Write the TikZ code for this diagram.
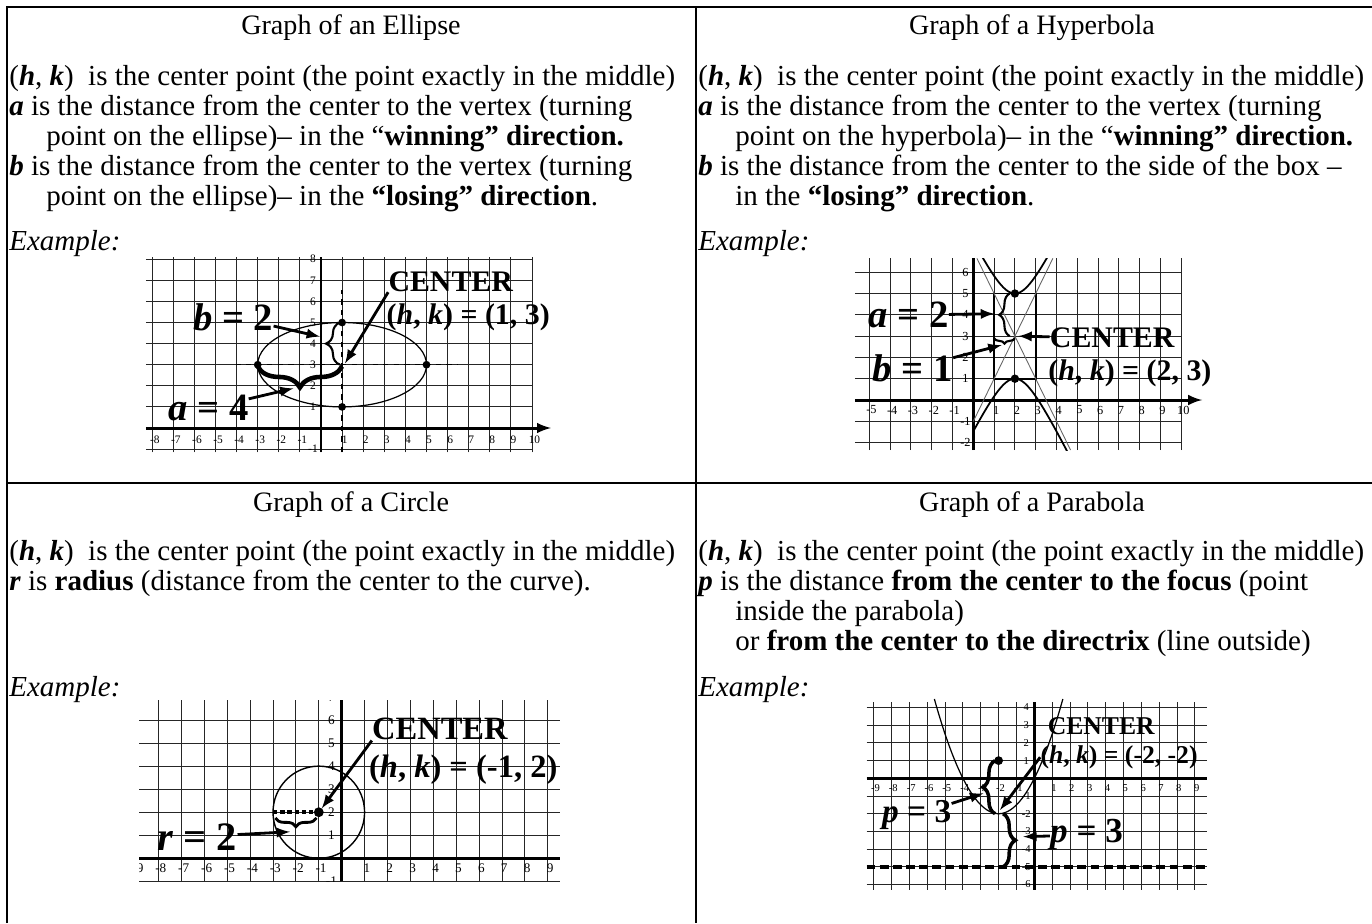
\documentclass[tikz,border=0pt]{standalone}
\usepackage{fontspec}
\setmainfont{Liberation Serif}
\usetikzlibrary{arrows,decorations.pathreplacing,positioning}

\tikzset{
  rule/.style={line width=1.5pt},
  gridln/.style={black!85, line width=0.5pt},
  axisln/.style={line width=1.7pt},
  body/.style={anchor=base west, inner sep=0pt, font=\fontsize{16.5}{18}\selectfont},
  head/.style={anchor=base, inner sep=0pt, font=\fontsize{16}{18}\selectfont},
  tk/.style={inner sep=0pt, font=\fontsize{#1}{#1}\selectfont},
  big/.style={inner sep=0pt, font=\bfseries\fontsize{#1}{#1}\selectfont},
  ptr/.style={-latex, line width=1.6pt},
  brc/.style={decorate, decoration={brace, amplitude=#1}, line width=1.2pt},
}

\begin{document}
\begin{tikzpicture}[x=0.02cm, y=-0.02cm]
\useasboundingbox (0,0) rectangle (1372,923);

% table rules
\draw[rule] (7,923) -- (7,7) -- (1372,7);
\draw[rule] (696,7) -- (696,923);
\draw[rule] (7,483) -- (1372,483);

% ---- ellipse text
\node[head] (t1) at (351,34) {Graph of an Ellipse};
\node[body] (e1) at (9,85) {(\textbf{\textit{h}}, \textbf{\textit{k}})\ \ is the center point (the point exactly in the middle)};
\node[body] (e2) at (9,115) {\textbf{\textit{a}} is the distance from the center to the vertex (turning};
\node[body] (e3) at (46,145) {point on the ellipse)– in the “\textbf{winning” direction.}};
\node[body] (e4) at (9,175) {\textbf{\textit{b}} is the distance from the center to the vertex (turning};
\node[body] (e5) at (46,205) {point on the ellipse)– in the \textbf{“losing” direction}.};
\node[body] (e6) at (9,250) {\textit{Example:}};

% ---- hyperbola text
\node[head] (t2) at (1032,34) {Graph of a Hyperbola};
\node[body] (h1) at (698,85) {(\textbf{\textit{h}}, \textbf{\textit{k}})\ \ is the center point (the point exactly in the middle)};
\node[body] (h2) at (698,115) {\textbf{\textit{a}} is the distance from the center to the vertex (turning};
\node[body] (h3) at (735,145) {point on the hyperbola)– in the “\textbf{winning” direction.}};
\node[body] (h4) at (698,175) {\textbf{\textit{b}} is the distance from the center to the side of the box –};
\node[body] (h5) at (735,205) {in the \textbf{“losing” direction}.};
\node[body] (h6) at (698,250) {\textit{Example:}};

% ---- circle text
\node[head] (t3) at (351,511) {Graph of a Circle};
\node[body] (c1) at (9,560) {(\textbf{\textit{h}}, \textbf{\textit{k}})\ \ is the center point (the point exactly in the middle)};
\node[body] (c2) at (9,590) {\textbf{\textit{r}} is \textbf{radius} (distance from the center to the curve).};
\node[body] (c3) at (9,696) {\textit{Example:}};

% ---- parabola text
\node[head] (t4) at (1032,511) {Graph of a Parabola};
\node[body] (p1) at (698,560) {(\textbf{\textit{h}}, \textbf{\textit{k}})\ \ is the center point (the point exactly in the middle)};
\node[body] (p2) at (698,590) {\textbf{\textit{p}} is the distance \textbf{from the center to the focus} (point};
\node[body] (p3) at (735,620) {inside the parabola)};
\node[body] (p4) at (735,650) {or \textbf{from the center to the directrix} (line outside)};
\node[body] (p5) at (698,696) {\textit{Example:}};

% ---- ellipse graph
\begin{scope}[shift={(321,428)}, x=0.422cm, y=0.422cm]
  \foreach \i in {-8,...,10} \draw[gridln] (\i,-1.15) -- (\i,8.1);
  \foreach \j in {-1,...,8} \draw[gridln] (-8.3,\j) -- (10,\j);
  \draw[axisln,-latex] (-8.3,0) -- (10.9,0);
  \draw[axisln] (0,-1.15) -- (0,8.1);
  \foreach \i in {-8,-7,-6,-5,-4,-3,-2,-1,1,2,3,4,5,6,7,8,9,10}
    \node[tk=6.5] (ex\i) at (\i+0.12,-0.55) {\i};
  \foreach \j in {-1,1,2,3,4,5,6,7,8}
    \node[tk=6.5] (ey\j) at (-0.38,\j) {\j};
  \draw[dashed, line width=0.8pt] (-4.05,3) -- (6.45,3);
  \draw[dashed, line width=0.8pt] (1,-1.15) -- (1,6.55);
  \draw[line width=0.7pt] (1,3) ellipse [x radius=4, y radius=2];
  \foreach \p in {(-3,3),(5,3),(1,5),(1,1)} \fill \p circle [radius=2.2pt];
  \draw[brc=8pt] (0.9,3) -- (0.9,5);
  \draw[brc=12pt, line width=2.6pt] (1,2.92) -- (-3,2.92);
  \coordinate (bE) at (-0.05,4.33);
  \coordinate (aE) at (-1.31,1.88);
  \coordinate (cE) at (1.14,3.07);
  \node[big=22] (lbE) at (-4.16,5.27) {\textit{b} = 2};
  \node[big=22] (laE) at (-5.34,0.93) {\textit{a} = 4};
  \node[big=17] (nE) at (6.15,6.93) {CENTER};
  \node[big=17] (hkE) at (6.98,5.27) {(\textit{h}, \textit{k}) = (1, 3)};
  \draw[ptr] (lbE) -- (bE);
  \draw[ptr] (laE) -- (aE);
  \draw[ptr] (nE.south west) -- (cE);
\end{scope}

% ---- hyperbola graph
\begin{scope}[shift={(973.3,400)}, x=0.416cm, y=0.426cm]
  \foreach \i in {-5,...,10} \draw[gridln] (\i,-2.35) -- (\i,6.65);
  \foreach \j in {-2,...,6} \draw[gridln] (-5.7,\j) -- (10,\j);
  \draw[axisln,-latex] (-5.7,0) -- (11,0);
  \draw[axisln] (0,-2.35) -- (0,6.65);
  \foreach \i in {-5,-4,-3,-2,-1,1,2,3,4,5,6,7,8,9,10}
    \node[tk=7] (hx\i) at (\i+0.1,-0.47) {\i};
  \foreach \j in {-2,-1,1,2,3,4,5,6}
    \node[tk=7] (hy\j) at (-0.38,\j) {\j};
  \draw[line width=1pt] (1,1) rectangle (3,5);
  \begin{scope}
    \clip (0,-2.35) rectangle (10,6.65);
    \draw[black!60, line width=0.5pt] (0.175,6.65) -- (4.675,-2.35);
    \draw[black!60, line width=0.5pt] (-0.675,-2.35) -- (3.825,6.65);
    \draw[line width=1pt, domain=-1:5, samples=80, smooth] plot (\x, {3+2*sqrt(1+(\x-2)^2)});
    \draw[line width=1pt, domain=-1:5, samples=80, smooth] plot (\x, {3-2*sqrt(1+(\x-2)^2)});
  \end{scope}
  \foreach \p in {(2,5),(2,1)} \fill \p circle [radius=2.4pt];
  \draw[brc=6pt] (1.75,3) -- (1.75,5);
  \draw[brc=3pt] (2,2.9) -- (1,2.9);
  \coordinate (aH) at (1.0,4.05);
  \coordinate (bH) at (1.36,2.58);
  \coordinate (cH) at (2.17,3);
  \node[big=22] (laH) at (-3.12,3.99) {\textit{a} = 2};
  \node[big=22] (lbH) at (-2.91,1.49) {\textit{b} = 1};
  \node[big=17] (nH) at (6.68,2.9) {CENTER};
  \node[big=17] (hkH) at (7.53,1.25) {(\textit{h}, \textit{k}) = (2, 3)};
  \draw[ptr] (laH) -- (aH);
  \draw[ptr] (lbH) -- (bH);
  \draw[ptr] (nH) -- (cH);
\end{scope}

% ---- circle graph
\begin{scope}[shift={(341.7,858.3)}, x=0.458cm, y=0.461cm]
  \begin{scope}
    \clip (-8.85,-1) rectangle (9.55,6.85);
    \foreach \i in {-8,...,9} \draw[gridln] (\i,-1) -- (\i,6.85);
    \foreach \j in {-1,...,6} \draw[gridln] (-8.85,\j) -- (9.55,\j);
    \draw[axisln] (-8.85,0) -- (9.55,0);
    \draw[axisln] (0,-1) -- (0,6.85);
    \foreach \i in {-9,-8,-7,-6,-5,-4,-3,-2,-1,1,2,3,4,5,6,7,8,9}
      \node[tk=7.5] (cx\i) at (\i+0.1,-0.43) {\i};
    \foreach \j in {-1,1,2,3,4,5,6,7}
      \node[tk=7.5] (cy\j) at (-0.45,\j) {\j};
  \end{scope}
  \draw[line width=0.8pt] (-1,2) circle [radius=2];
  \draw[line width=2pt, dash pattern=on 2.5pt off 1.6pt] (-3,2) -- (-1,2);
  \fill (-1,2) circle [radius=2.8pt];
  \draw[brc=5pt, line width=1.6pt] (-1.1,1.75) -- (-2.9,1.75);
  \coordinate (rC) at (-2.26,1.15);
  \coordinate (cC) at (-0.87,2.17);
  \node[big=23] (lrC) at (-6.3,0.94) {\textit{r} = 2};
  \node[big=18.5] (nC) at (4.29,5.6) {CENTER};
  \node[big=18.5] (hkC) at (5.31,3.86) {(\textit{h}, \textit{k}) = (-1, 2)};
  \draw[ptr] (lrC) -- (rC);
  \draw[ptr] (nC.south west) -- (cC);
\end{scope}

% ---- parabola graph
\begin{scope}[shift={(1034.3,778.3)}, x=0.357cm, y=0.354cm]
  \foreach \i in {-9,...,9} \draw[gridln] (\i,-6.3) -- (\i,4.3);
  \foreach \j in {-6,...,4} \draw[gridln] (-9.4,\j) -- (9.7,\j);
  \draw[axisln] (-9.4,0) -- (9.7,0);
  \draw[axisln] (0,-6.3) -- (0,4.3);
  \foreach \i in {-9,-8,-7,-6,-5,-4,-3,-2,-1,1,2,3,4,5,6,7,8,9}
    \node[tk=6] (px\i) at (\i+0.1,-0.56) {\i};
  \foreach \j in {-6,-5,-4,-3,-2,-1,1,2,3,4}
    \node[tk=6] (py\j) at (-0.45,\j) {\j};
  \draw[line width=2pt, dash pattern=on 5pt off 2.5pt] (-9.4,-5) -- (9.7,-5);
  \draw[line width=0.7pt, domain=-5.6:1.6, samples=60, smooth] plot (\x, {(\x+2)^2/2-2});
  \fill (-2,1) circle [radius=2.5pt];
  \draw[brc=7pt, line width=2pt] (-2.2,-2) -- (-2.2,1);
  \draw[brc=7pt, line width=2pt] (-1.75,-2) -- (-1.75,-5);
  \coordinate (pL) at (-2.86,-0.85);
  \coordinate (pR) at (-0.62,-3.3);
  \coordinate (cP) at (-1.92,-1.79);
  \node[big=19] (lpL) at (-6.59,-2.05) {\textit{p} = 3};
  \node[big=20] (lpR) at (2.93,-3.2) {\textit{p} = 3};
  \node[big=14.6] (nP) at (3.75,2.97) {CENTER};
  \node[big=14.6] (hkP) at (4.75,1.19) {(\textit{h}, \textit{k}) = (-2, -2)};
  \draw[ptr] (lpL) -- (pL);
  \draw[ptr] (lpR) -- (pR);
  \draw[ptr] (hkP.west) -- (cP);
\end{scope}
\end{tikzpicture}
\end{document}
